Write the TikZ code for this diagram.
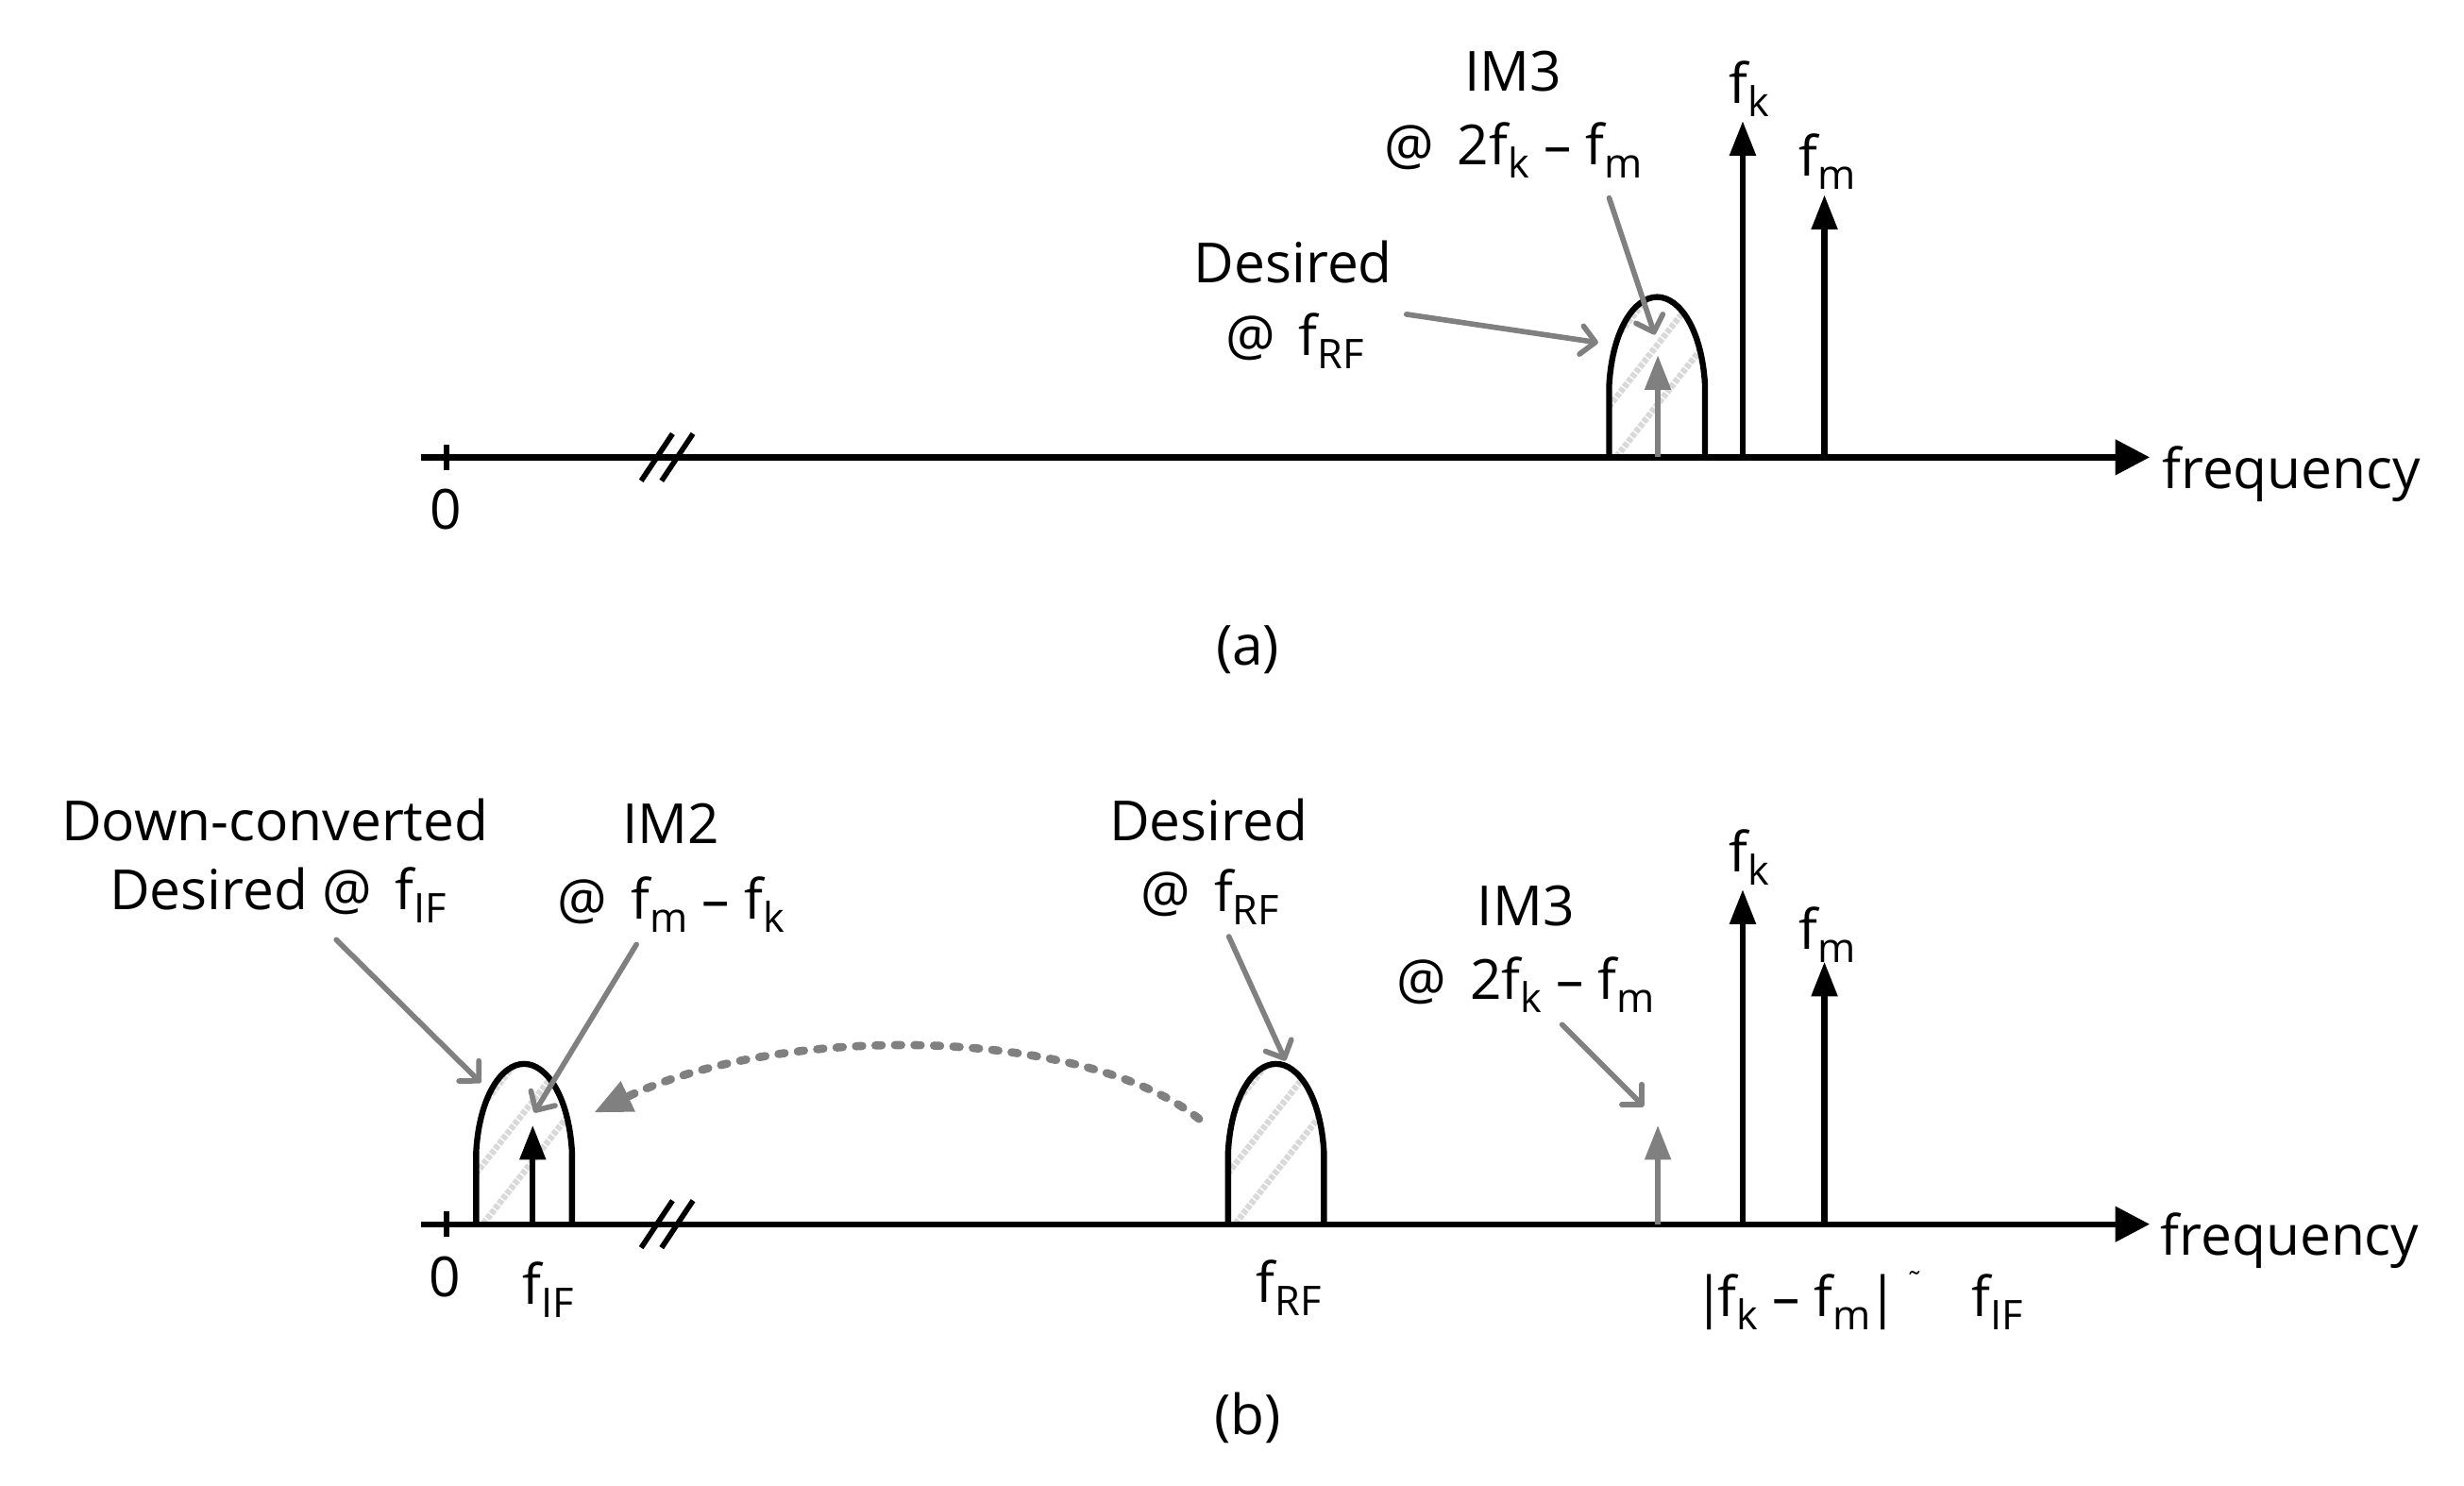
\documentclass[tikz,border=0pt]{standalone}
\usepackage{fontspec}
\setmainfont{Open Sans}
\usetikzlibrary{arrows.meta}
\newcommand{\lowtxt}[1]{\raisebox{-0.24em}{\fontsize{13}{15}\selectfont #1}}
\newcommand{\bumpshape}[2]{% left x, base y
  \begin{scope}
    \clip (#1,#2) -- ++(0,-46) .. controls +(2,-35) and +(-14.5,0) .. ++(30.5,-56) .. controls +(14.5,0) and +(-2,-35) .. ++(30.5,56) -- ++(0,46) -- cycle;
    \foreach \h in {-6,32,70,108} \draw[stripe] (#1,#2) ++(-20,-\h+25) -- ++(110,-140);
  \end{scope}
  \draw[bumpline] (#1,#2) -- ++(0,-46) .. controls +(2,-35) and +(-14.5,0) .. ++(30.5,-56) .. controls +(14.5,0) and +(-2,-35) .. ++(30.5,56) -- ++(0,46);
}
\tikzset{
  x=0.5pt,y=-0.5pt,
  lbl/.style={anchor=base,inner sep=0pt,outer sep=0pt,font=\fontsize{17.6}{20}\selectfont,text=black},
  lblw/.style={lbl,anchor=base west},
  axisline/.style={line width=1.9pt,black,-{Triangle[length=11pt,width=11pt]}},
  plainline/.style={line width=1.7pt,black},
  bumpline/.style={line width=1.9pt,black},
  stripe/.style={line width=2pt,gray!30,dash pattern=on 1.5pt off 0.5pt},
  tone/.style={line width=1.9pt,black,-{Triangle[length=11pt,width=8pt]}},
  greytone/.style={line width=1.9pt,gray50,-{Triangle[length=11pt,width=8pt]}},
  pointer/.style={line width=1.7pt,gray50,line cap=round,-{Straight Barb[round,length=4.5pt,width=9pt]}},
  swing/.style={line width=2.6pt,gray50,line cap=round,dash pattern=on 2pt off 4.2pt,-{Triangle[length=12pt,width=10pt]}},
}
\definecolor{gray50}{HTML}{808080}
\begin{document}
\begin{tikzpicture}
\useasboundingbox[fill=white] (0,0) rectangle (1568,945.6);
% ---------- panel (a)
\bumpshape{1024}{291}
\coordinate (aL) at (268,291); \coordinate (aR) at (1368,291);
\draw[axisline] (aL) -- (aR);
\coordinate (aT1) at (284,283); \coordinate (aT2) at (284,299);
\draw[plainline] (aT1) -- (aT2);
\coordinate (aS1) at (408,306); \coordinate (aS2) at (428,276);
\coordinate (aS3) at (421,306); \coordinate (aS4) at (441,276);
\draw[plainline] (aS1) -- (aS2); \draw[plainline] (aS3) -- (aS4);
\coordinate (aK0) at (1109,291); \coordinate (aK) at (1109,77);
\coordinate (aM0) at (1161,291); \coordinate (aM) at (1161,124);
\coordinate (aI0) at (1055,291); \coordinate (aI) at (1055,226);
\draw[tone] (aK0) -- (aK); \draw[tone] (aM0) -- (aM); \draw[greytone] (aI0) -- (aI);
\node[lbl] (aim) at (963,58) {IM3};
\node[lbl] (aimf) at (963,105) {@ \,2f\lowtxt{k} – f\lowtxt{m}};
\node[lbl] (afk) at (1113,66) {f\lowtxt{k}};
\node[lbl] (afm) at (1163,112) {f\lowtxt{m}};
\node[lbl] (ades) at (823,180) {Desired};
\node[lbl] (adesf) at (824,226) {@ \,f\lowtxt{RF}};
\node[lblw] (afreq) at (1376,311) {frequency};
\node[lbl] (azero) at (284,337) {0};
\node[lbl] (acap) at (794,423) {(a)};
\coordinate (ap1) at (895,200); \coordinate (ap2) at (1017,218);
\coordinate (ap3) at (1024,126); \coordinate (ap4) at (1053,213);
\draw[pointer] (ap1) -- (ap2); \draw[pointer] (ap3) -- (ap4);
% ---------- panel (b)
\bumpshape{303}{779}
\bumpshape{781.5}{779}
\coordinate (bL) at (268,779); \coordinate (bR) at (1368,779);
\draw[axisline] (bL) -- (bR);
\coordinate (bT1) at (284,771); \coordinate (bT2) at (284,787);
\draw[plainline] (bT1) -- (bT2);
\coordinate (bS1) at (408,794); \coordinate (bS2) at (428,764);
\coordinate (bS3) at (421,794); \coordinate (bS4) at (441,764);
\draw[plainline] (bS1) -- (bS2); \draw[plainline] (bS3) -- (bS4);
\coordinate (bK0) at (1109,779); \coordinate (bK) at (1109,566);
\coordinate (bM0) at (1161,779); \coordinate (bM) at (1161,612);
\coordinate (bI0) at (1055,779); \coordinate (bI) at (1055,716);
\coordinate (bF0) at (339,779); \coordinate (bF) at (339,716);
\draw[tone] (bK0) -- (bK); \draw[tone] (bM0) -- (bM);
\draw[greytone] (bI0) -- (bI); \draw[tone] (bF0) -- (bF);
\node[lbl] (bdown) at (175,535) {Down-converted};
\node[lbl] (bdes) at (177,579) {Desired @ \,f\lowtxt{IF}};
\node[lbl] (bim2) at (427,537) {IM2};
\node[lbl] (bim2f) at (427,585) {@ \,f\lowtxt{m} – f\lowtxt{k}};
\node[lbl] (bdes2) at (769,535) {Desired};
\node[lbl] (bdes2f) at (770,580) {@ \,f\lowtxt{RF}};
\node[lbl] (bim3) at (971,589) {IM3};
\node[lbl] (bim3f) at (971,636) {@ \,2f\lowtxt{k} – f\lowtxt{m}};
\node[lbl] (bfk) at (1113,555) {f\lowtxt{k}};
\node[lbl] (bfm) at (1163,604) {f\lowtxt{m}};
\node[lblw] (bfreq) at (1375,799) {frequency};
\node[lbl] (bzero) at (283,825) {0};
\node[lbl] (bfif) at (349,830) {f\lowtxt{IF}};
\node[lbl] (bfrf) at (820,829) {f\lowtxt{RF}};
\node[lbl] (bdiff) at (1143,838) {|\kern-2pt f\lowtxt{k} – f\lowtxt{m}\kern-1pt|};
\node[lbl,font=\fontsize{9}{10}\selectfont] (bapprox) at (1218,822) {˜};
\node[lbl] (bfif2) at (1271,838) {f\lowtxt{IF}};
\node[lbl] (bcap) at (794,913) {(b)};
\coordinate (bp1) at (214,598); \coordinate (bp2) at (306,689);
\coordinate (bp3) at (405,601); \coordinate (bp4) at (340,708);
\coordinate (bp5) at (782,596); \coordinate (bp6) at (818,675);
\coordinate (bp7) at (994,652); \coordinate (bp8) at (1046,704);
\draw[pointer] (bp1) -- (bp2); \draw[pointer] (bp3) -- (bp4);
\draw[pointer] (bp5) -- (bp6); \draw[pointer] (bp7) -- (bp8);
\coordinate (bc1) at (763,712); \coordinate (bc2) at (378,708);
\draw[swing] (bc1) .. controls (690,654) and (500,650) .. (bc2);
\end{tikzpicture}
\end{document}
